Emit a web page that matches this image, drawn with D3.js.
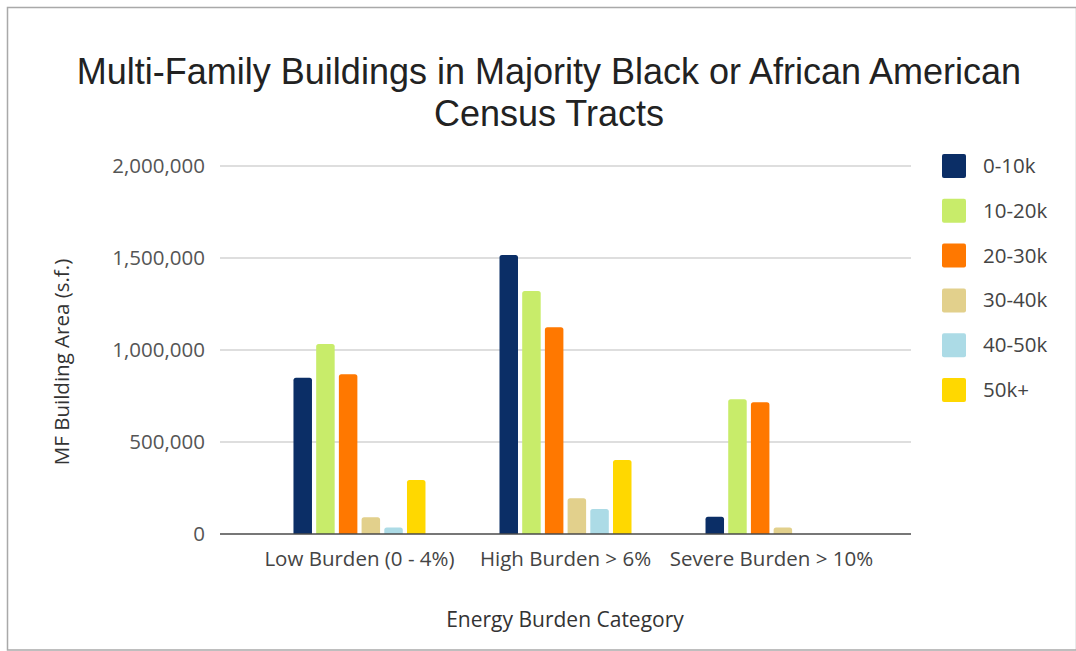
<!DOCTYPE html>
<html>
<head>
<meta charset="utf-8">
<script src="https://cdn.jsdelivr.net/npm/d3@7"></script>
<style>
  html, body { margin: 0; padding: 0; background: #fff; }
  svg { display: block; }
</style>
</head>
<body>
<svg id="chart" width="1076" height="651" font-family="'Open Sans', 'Noto Sans', sans-serif"></svg>
<script>
// Energy burden categories on the x axis
const categories = ["Low Burden (0 - 4%)", "High Burden > 6%", "Severe Burden > 10%"];
// Income bands (series)
const seriesNames = ["0-10k", "10-20k", "20-30k", "30-40k", "40-50k", "50k+"];
const seriesColors = ["#0b2e66", "#c8ec6a", "#ff7800", "#e2d08c", "#acdbe6", "#ffd800"];
// MF building area (s.f.) per income band, one array per category
const lowBurden = [849000, 1032000, 868000, 91000, 36000, 293000];
const highBurden = [1516000, 1321000, 1123000, 194000, 136000, 402000];
const severeBurden = [94000, 732000, 716000, 36000, 0, 0];
const yTicks = [0, 500000, 1000000, 1500000, 2000000];
const titleLines = ["Multi-Family Buildings in Majority Black or African American", "Census Tracts"];

const values = [lowBurden, highBurden, severeBurden];
const rows = categories.map((c, i) => ({
  category: c,
  bars: seriesNames.map((s, j) => ({ series: s, value: values[i][j], color: seriesColors[j] }))
}));

const svg = d3.select("#chart");
const W = 1076, H = 651;

// Frame
svg.append("rect")
  .attr("x", 7.5).attr("y", 7.5)
  .attr("width", W - 7).attr("height", H - 8.5)
  .attr("fill", "#fff").attr("stroke", "#a9a9a9").attr("stroke-width", 1.5);

const plot = { left: 220, right: 911, top: 166, bottom: 534 };

const y = d3.scaleLinear().domain([0, 2000000]).range([plot.bottom, plot.top]);
const x0 = d3.scaleBand().domain(categories).range([plot.left, plot.right])
  .paddingInner(0).paddingOuter(0.177);
const x1 = d3.scaleBand().domain(seriesNames).range([0, x0.bandwidth()])
  .paddingInner(0.185).paddingOuter(1.63);

// Gridlines
svg.append("g")
  .selectAll("line")
  .data(yTicks.filter(t => t > 0))
  .join("line")
  .attr("x1", plot.left).attr("x2", plot.right)
  .attr("y1", d => y(d)).attr("y2", d => y(d))
  .attr("stroke", "#d3d3d3").attr("stroke-width", 1.5);

// Y axis tick labels
const yAxis = d3.axisLeft(y).tickValues(yTicks).tickFormat(d3.format(",")).tickSize(0).tickPadding(15);
const gy = svg.append("g").attr("transform", `translate(${plot.left},0)`).call(yAxis);
gy.select(".domain").remove();
gy.attr("font-family", null).attr("font-size", null);
gy.selectAll("text")
  .attr("font-size", 20.5).attr("fill", "#555");

// Bars with slightly rounded tops
const groups = svg.append("g")
  .selectAll("g")
  .data(rows)
  .join("g")
  .attr("transform", d => `translate(${x0(d.category)},0)`);

groups.selectAll("path")
  .data(d => d.bars.filter(b => b.value > 0))
  .join("path")
  .attr("fill", d => d.color)
  .attr("d", d => {
    const bx = x1(d.series), bw = x1.bandwidth();
    const top = y(d.value), base = y(0);
    const r = Math.min(2.5, (base - top) / 2);
    return `M${bx},${base} V${top + r} Q${bx},${top} ${bx + r},${top} H${bx + bw - r} Q${bx + bw},${top} ${bx + bw},${top + r} V${base} Z`;
  });

// Baseline
svg.append("line")
  .attr("x1", plot.left).attr("x2", plot.right)
  .attr("y1", y(0)).attr("y2", y(0))
  .attr("stroke", "#4a4a4a").attr("stroke-width", 1.5);

// X axis category labels
const xAxis = d3.axisBottom(x0).tickSize(0).tickPadding(17);
const gx = svg.append("g").attr("transform", `translate(0,${plot.bottom})`).call(xAxis);
gx.select(".domain").remove();
gx.attr("font-family", null).attr("font-size", null);
gx.selectAll("text")
  .attr("font-size", 20.5).attr("fill", "#444");

// Axis titles
svg.append("text")
  .attr("x", 565).attr("y", 627)
  .attr("text-anchor", "middle")
  .attr("font-size", 21).attr("fill", "#333")
  .text("Energy Burden Category");

svg.append("text")
  .attr("transform", "translate(69,362) rotate(-90)")
  .attr("text-anchor", "middle")
  .attr("font-size", 20.5).attr("fill", "#333")
  .text("MF Building Area (s.f.)");

// Title: two lines, sized to span the chart width
const title = svg.append("text")
  .attr("text-anchor", "middle")
  .attr("font-family", "'Liberation Sans', Arial, sans-serif")
  .attr("font-size", 34)
  .attr("fill", "#222");
const tspans = title.selectAll("tspan")
  .data(titleLines)
  .join("tspan")
  .attr("x", 549)
  .attr("y", (d, i) => 84 + i * 42)
  .text(d => d);
const len = tspans.nodes()[0].getComputedTextLength();
title.attr("font-size", Math.min(36, 34 * 975 / len));

// Legend
const legend = svg.append("g")
  .selectAll("g")
  .data(seriesNames)
  .join("g")
  .attr("transform", (d, i) => `translate(942,${166 + i * 44.8})`);
legend.append("rect")
  .attr("x", 0).attr("y", -12).attr("width", 24).attr("height", 24)
  .attr("rx", 2)
  .attr("fill", (d, i) => seriesColors[i]);
legend.append("text")
  .attr("x", 41).attr("y", 7)
  .attr("font-size", 20.5).attr("fill", "#444")
  .text(d => d);
</script>
</body>
</html>
